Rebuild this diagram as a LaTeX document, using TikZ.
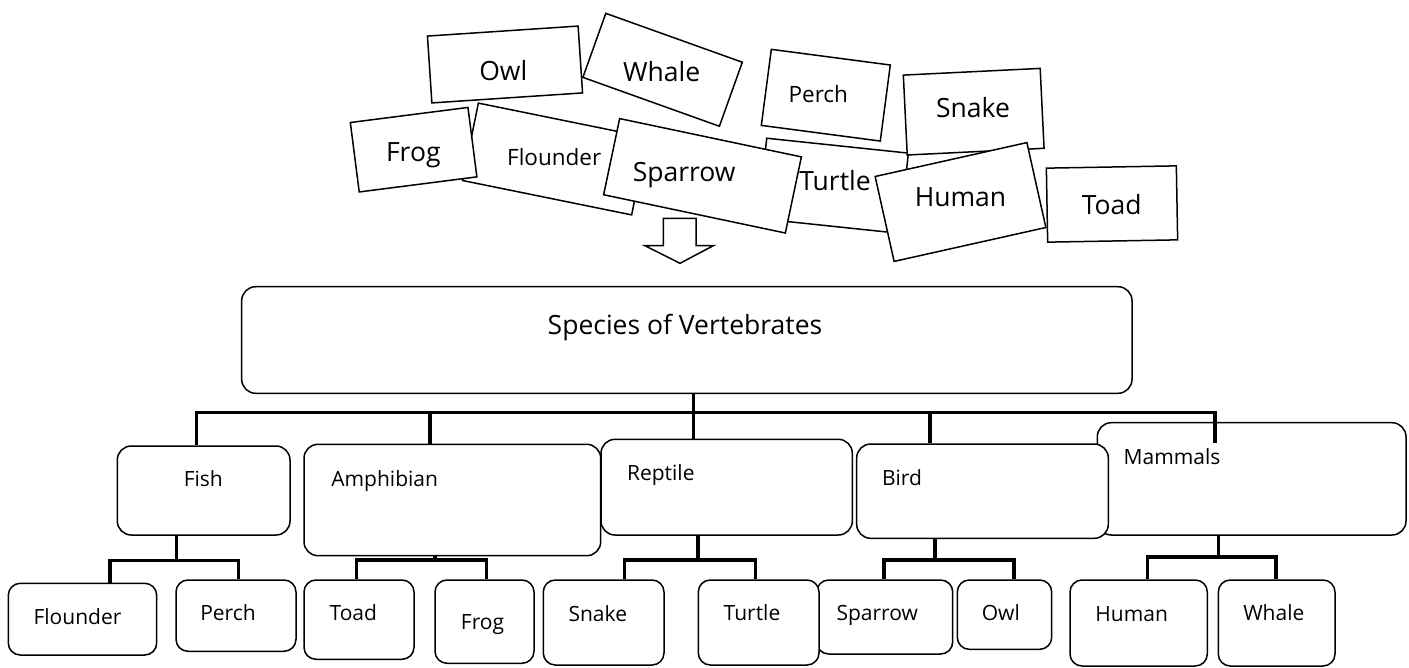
\documentclass[tikz,border=0pt]{standalone}
\usepackage{fontspec}
\setmainfont{Open Sans}
\usetikzlibrary{fit}
\begin{document}
\begin{tikzpicture}[x=1pt,y=-1pt,
  card/.style={draw, line width=1.5pt, fill=white, inner sep=0pt},
  bigtxt/.style={font=\fontsize{26.5}{30}\selectfont, anchor=base, inner sep=0pt},
  midtxt/.style={font=\fontsize{22.5}{26}\selectfont, anchor=base, inner sep=0pt},
  labtxt/.style={font=\fontsize{21}{25}\selectfont, anchor=base, inner sep=0pt},
  tbox/.style={draw, line width=1.5pt, fill=white, rounded corners=14pt, inner sep=0pt},
  leaf/.style={draw, line width=1.5pt, fill=white, rounded corners=12pt, inner sep=0pt},
  conn/.style={line width=3.5pt, line join=miter},
  arrowshape/.style={draw, line width=1.5pt, fill=white, line join=miter}]
\useasboundingbox[fill=white] (0,0) rectangle (1409,667);

% ---------- scattered cards ----------
\draw[arrowshape] (663.3,218.3) -- (696,218.3) -- (696,245.7) -- (713.3,245.7)
  -- (680,263.3) -- (645,245.7) -- (663.3,245.7) -- cycle;

\node[card, rotate=-19.7, minimum width=145pt, minimum height=68pt] (cWhale) at (662.6,69.8) {};
\node[bigtxt] (tWhale) at (661.7,81.7) {Whale};
\node[card, rotate=3.8, minimum width=151pt, minimum height=67pt] (cOwl) at (505,64.5) {};
\node[bigtxt] (tOwl) at (503.3,80) {Owl};
\node[card, rotate=-11.5, minimum width=172.5pt, minimum height=79pt] (cFlounder) at (555,159) {};
\node[midtxt] (tFlounder) at (554.2,165.7) {Flounder};
\node[card, rotate=7.3, minimum width=118.6pt, minimum height=70pt] (cFrog) at (413.6,149.7) {};
\node[bigtxt] (tFrog) at (413.3,161.7) {Frog};
\node[card, rotate=-7.5, minimum width=120pt, minimum height=76.7pt] (cPerch) at (825.8,95.2) {};
\node[midtxt] (tPerch) at (818.3,102.3) {Perch};
\node[card, rotate=-6, minimum width=142.4pt, minimum height=80.7pt] (cTurtle) at (833.3,185.8) {};
\node[bigtxt] (tTurtle) at (835,190.7) {Turtle};
\node[card, rotate=-11.9, minimum width=185.7pt, minimum height=77.8pt] (cSparrow) at (702.5,175.8) {};
\node[bigtxt] (tSparrow) at (684.2,181) {Sparrow};
\node[card, rotate=2.8, minimum width=137pt, minimum height=80pt] (cSnake) at (973.7,111.7) {};
\node[bigtxt] (tSnake) at (973,117.7) {Snake};
\node[card, rotate=12.6, minimum width=155.5pt, minimum height=87pt] (cHuman) at (960.5,202) {};
\node[bigtxt] (tHuman) at (960.5,206) {Human};
\node[card, rotate=1, minimum width=130pt, minimum height=74pt] (cToad) at (1112,204) {};
\node[bigtxt] (tToad) at (1111.7,214.3) {Toad};

% ---------- tree ----------
\node[tbox, fit={(241.7,286.7) (1132,393.3)}] (species) {};
\node[bigtxt] (tSpecies) at (685,334) {Species of Vertebrates};

\node[tbox, fit={(117.3,446) (290,535)}] (fish) {};
\node[tbox, fit={(304,444.3) (600.7,555.7)}] (amph) {};
\node[tbox, fit={(601,439.3) (852.3,535)}] (rept) {};
\node[tbox, fit={(1097.3,422.7) (1406,535)}] (mamm) {};
\node[tbox, fit={(856.7,444) (1108.3,538.3)}] (bird) {};
\node[labtxt] (tFish) at (203.3,486.7) {Fish};
\node[labtxt] (tAmph) at (384.7,486) {Amphibian};
\node[labtxt] (tRept) at (660.8,480) {Reptile};
\node[labtxt] (tBird) at (902,485) {Bird};
\node[labtxt] (tMamm) at (1172,464) {Mammals};

\node[leaf, fit={(8.3,583.3) (156.7,655)}] (lFlounder) {};
\node[leaf, fit={(176,580) (296,651.3)}] (lPerch) {};
\node[leaf, fit={(304,580) (414,659.3)}] (lToad) {};
\node[leaf, fit={(435,580) (534,663.3)}] (lFrog) {};
\node[leaf, fit={(543.3,580) (664,665)}] (lSnake) {};
\node[leaf, fit={(816.7,580) (952.7,654)}] (lSparrow) {};
\node[leaf, fit={(698.3,580) (819,665)}] (lTurtle) {};
\node[leaf, fit={(957.3,580) (1051.7,649.3)}] (lOwl) {};
\node[leaf, fit={(1070,580) (1207.3,666)}] (lHuman) {};
\node[leaf, fit={(1218.3,580) (1335,666)}] (lWhale) {};
\node[labtxt] (tlFlounder) at (77.5,624) {Flounder};
\node[labtxt] (tlPerch) at (228,620.7) {Perch};
\node[labtxt] (tlToad) at (353.3,620.7) {Toad};
\node[labtxt] (tlFrog) at (482.5,629.3) {Frog};
\node[labtxt] (tlSnake) at (597.8,621.7) {Snake};
\node[labtxt] (tlTurtle) at (752,620.7) {Turtle};
\node[labtxt] (tlSparrow) at (877.2,620.7) {Sparrow};
\node[labtxt] (tlOwl) at (1000.8,620.7) {Owl};
\node[labtxt] (tlHuman) at (1131.7,621.7) {Human};
\node[labtxt] (tlWhale) at (1273.8,620.7) {Whale};

% ---------- connectors ----------
\coordinate (hL) at (196.7,412.7);
\coordinate (hR) at (1215,412.7);
\coordinate (hA) at (430,412.7);
\coordinate (hB) at (930,412.7);
\coordinate (hub) at (693.6,412.7);
\coordinate (mEnd) at (1215,443.3);
\draw[conn] (fish.north -| hL) -- (hL) -- (hR) -- (mEnd);
\draw[conn] (hA) -- (amph.north -| hA);
\draw[conn] (hB) -- (bird.north -| hB);
\draw[conn] (species.south -| hub) -- (rept.north -| hub);

% fish
\coordinate (fs) at (176.7,560.7);
\coordinate (f1) at (110,560.7);
\coordinate (f2) at (238.3,560.7);
\draw[conn] (fish.south -| fs) -- (fs);
\draw[conn] (lFlounder.north -| f1) -- (f1) -- (f2) -- (lPerch.north -| f2);
% amphibian
\coordinate (as) at (435,560);
\coordinate (a1) at (356.7,560);
\coordinate (a2) at (486.7,560);
\draw[conn] (amph.south -| as) -- (as);
\draw[conn] (lToad.north -| a1) -- (a1) -- (a2) -- (lFrog.north -| a2);
% reptile
\coordinate (rs) at (698,560);
\coordinate (r1) at (624.3,560);
\coordinate (r2) at (755.5,560);
\draw[conn] (rept.south -| rs) -- (rs);
\draw[conn] (lSnake.north -| r1) -- (r1) -- (r2) -- (lTurtle.north -| r2);
% bird
\coordinate (bs) at (935,560);
\coordinate (b1) at (884,560);
\coordinate (b2) at (1014,560);
\draw[conn] (bird.south -| bs) -- (bs);
\draw[conn] (lSparrow.north -| b1) -- (b1) -- (b2) -- (lOwl.north -| b2);
% mammals
\coordinate (ms) at (1218.3,557);
\coordinate (m1) at (1147.7,557);
\coordinate (m2) at (1276,557);
\draw[conn] (mamm.south -| ms) -- (ms);
\draw[conn] (lHuman.north -| m1) -- (m1) -- (m2) -- (lWhale.north -| m2);
\end{tikzpicture}
\end{document}
